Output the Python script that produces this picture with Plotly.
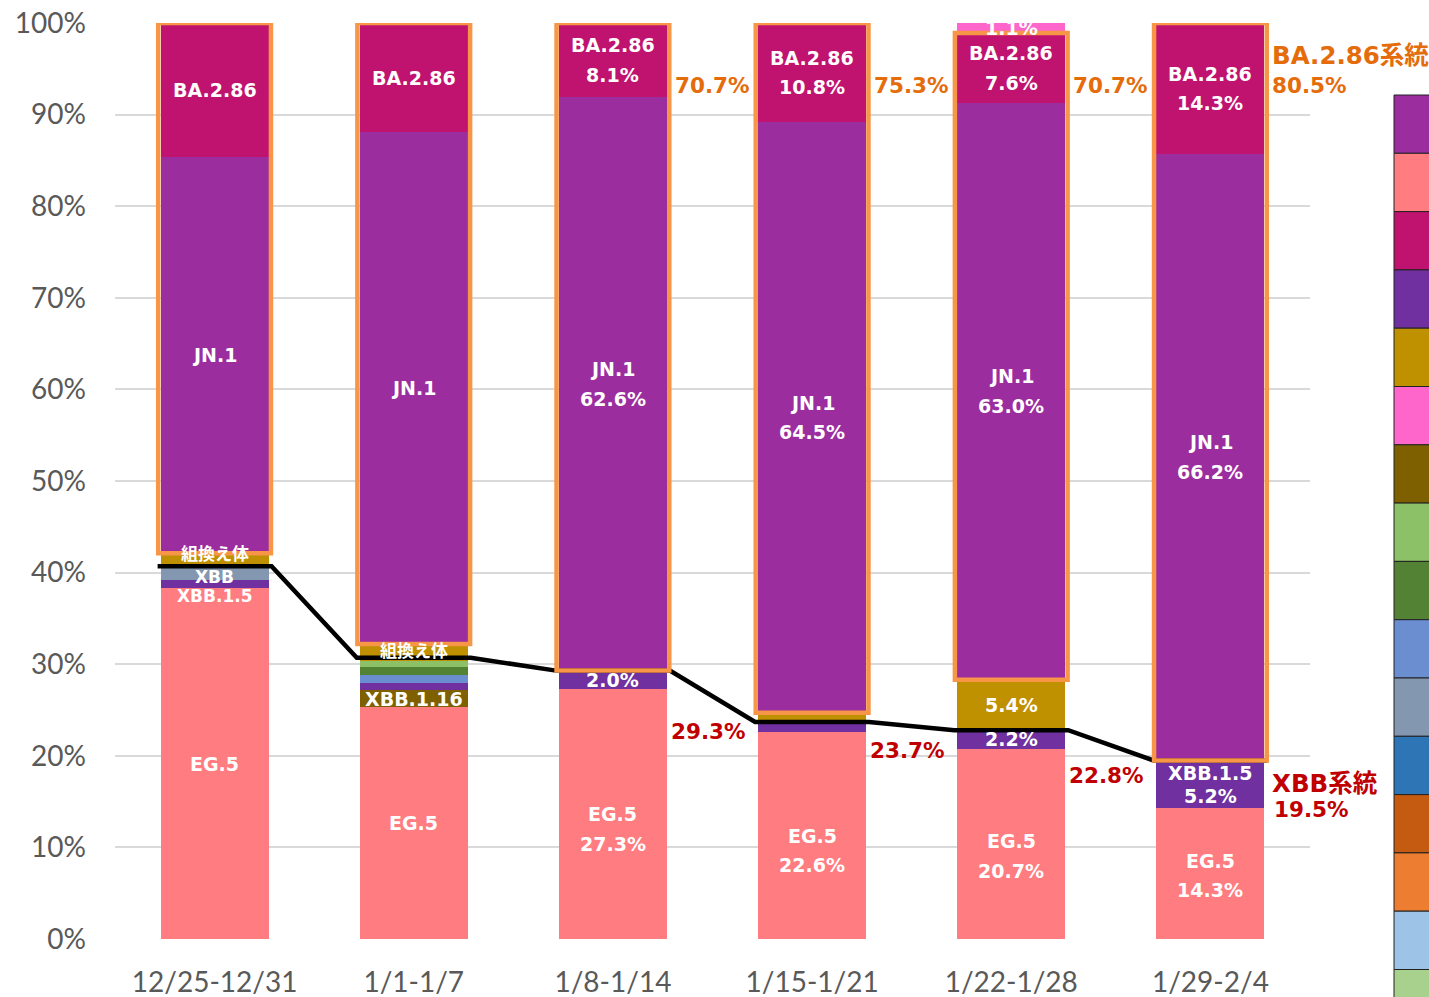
import plotly.graph_objects as go

weeks = ["12/25-12/31", "1/1-1/7", "1/8-1/14", "1/15-1/21", "1/22-1/28", "1/29-2/4"]

# stacked series, bottom to top (percent)
eg5      = [38.3, 25.3, 27.3, 22.6, 20.7, 14.3]
xbb116   = [0.0, 1.9, 0.0, 0.0, 0.0, 0.0]
xbb15    = [0.9, 0.7, 2.0, 1.1, 2.2, 5.2]
xbb23    = [0.0, 0.9, 0.0, 0.0, 0.0, 0.0]
xbb192   = [0.0, 0.9, 0.0, 0.0, 0.0, 0.0]
xbb191   = [0.0, 0.7, 0.0, 0.0, 0.0, 0.0]
xbb      = [1.3, 0.0, 0.0, 0.0, 0.0, 0.0]
recomb   = [1.6, 1.8, 0.0, 1.0, 5.4, 0.0]
jn1      = [43.3, 55.9, 62.6, 64.5, 63.0, 66.2]
ba286    = [14.6, 11.9, 8.1, 10.8, 7.6, 14.3]
other    = [0.0, 0.0, 0.0, 0.0, 1.1, 0.0]

xbb_lineage = [40.7, 30.7, 29.3, 23.7, 22.8, 19.5]
ba286_lineage_labels = ["", "", "70.7%", "75.3%", "70.7%", "80.5%"]
xbb_lineage_labels = ["", "", "29.3%", "23.7%", "22.8%", "19.5%"]
xbb_label_y = [None, None, 22.7, 20.6, 17.8, 14.1]

series = [
    ("EG.5", eg5, "#FF7C80"),
    ("XBB.1.16", xbb116, "#7F6000"),
    ("XBB.1.5", xbb15, "#7030A0"),
    ("XBB.2.3", xbb23, "#6A8ED0"),
    ("XBB.1.9.2", xbb192, "#548235"),
    ("XBB.1.9.1", xbb191, "#8CC168"),
    ("XBB", xbb, "#8497B0"),
    ("組換え体", recomb, "#BF9000"),
    ("JN.1", jn1, "#9B2D9F"),
    ("BA.2.86", ba286, "#C0136F"),
    ("その他", other, "#FF66CC"),
]

legend_colors = ["#9B2D9F", "#FF7C80", "#C0136F", "#7030A0", "#BF9000", "#FF66CC",
                 "#7F6000", "#8CC168", "#548235", "#6A8ED0", "#8497B0", "#2E75B6",
                 "#C55A11", "#ED7D31", "#9DC3E6", "#A9D18E"]

# labels drawn inside segments: (series name, bar index, text lines, pixel nudge)
inside_labels = [
    ("BA.2.86", 0, ["BA.2.86"], 0), ("JN.1", 0, ["JN.1"], 0), ("EG.5", 0, ["EG.5"], 0),
    ("BA.2.86", 1, ["BA.2.86"], 0), ("JN.1", 1, ["JN.1"], 0), ("XBB.1.16", 1, ["XBB.1.16"], 0),
    ("EG.5", 1, ["EG.5"], 0),
    ("BA.2.86", 2, ["BA.2.86", "8.1%"], 0), ("JN.1", 2, ["JN.1", "62.6%"], 0), ("XBB.1.5", 2, ["2.0%"], 0),
    ("EG.5", 2, ["EG.5", "27.3%"], -15),
    ("BA.2.86", 3, ["BA.2.86", "10.8%"], 0), ("JN.1", 3, ["JN.1", "64.5%"], 0),
    ("EG.5", 3, ["EG.5", "22.6%"], -15),
    ("その他", 4, ["1.1%"], 0), ("BA.2.86", 4, ["BA.2.86", "7.6%"], 0), ("JN.1", 4, ["JN.1", "63.0%"], 0),
    ("組換え体", 4, ["5.4%"], 0), ("XBB.1.5", 4, ["2.2%"], 0), ("EG.5", 4, ["EG.5", "20.7%"], -12),
    ("BA.2.86", 5, ["BA.2.86", "14.3%"], 0), ("JN.1", 5, ["JN.1", "66.2%"], 0),
    ("XBB.1.5", 5, ["XBB.1.5", "5.2%"], 0), ("EG.5", 5, ["EG.5", "14.3%"], -2),
]

BAR_W = 0.542
LABEL_FONT = "DejaVu Sans, Noto Sans CJK JP, sans-serif"
x = list(range(len(weeks)))

fig = go.Figure()
bases = {}
cum = [0.0] * len(weeks)
for name, vals, color in series:
    bases[name] = (list(cum), vals)
    fig.add_trace(go.Bar(x=x, y=vals, name=name, marker=dict(color=color, line=dict(width=0)),
                         width=BAR_W, showlegend=False, hoverinfo="y+name"))
    cum = [c + v for c, v in zip(cum, vals)]

# series line (XBB lineage)
lx, ly = [], []
hw = BAR_W / 2 + 0.015
for i, v in enumerate(xbb_lineage):
    lx += [i - hw, i + hw]
    ly += [v, v]
fig.add_trace(go.Scatter(x=lx, y=ly, mode="lines", line=dict(color="black", width=4.5),
                         showlegend=False, hoverinfo="skip"))

shapes = []
# orange boxes around BA.2.86 lineage (JN.1 + BA.2.86)
for i in x:
    b0 = bases["JN.1"][0][i]
    top = b0 + jn1[i] + ba286[i]
    shapes.append(dict(type="rect", xref="x", yref="y", x0=i - BAR_W / 2 - 0.012, x1=i + BAR_W / 2 + 0.012,
                       y0=b0, y1=top, line=dict(color="#F79646", width=4.5), fillcolor="rgba(0,0,0,0)",
                       layer="above"))

annotations = []
# small recombinant / XBB labels for first two bars
small_labels = [(0, 42.0, "組換え体"), (0, 39.5, "XBB"), (0, 37.5, "XBB.1.5"), (1, 31.4, "組換え体")]
for i, yv, t in small_labels:
    annotations.append(dict(x=i, y=yv, xref="x", yref="y", text="<b>" + t + "</b>", showarrow=False,
                            font=dict(family=LABEL_FONT, size=17, color="white")))

for name, i, lines, nudge in inside_labels:
    base, vals = bases[name]
    yc = base[i] + vals[i] / 2
    gap = 23 if name == "XBB.1.5" else 29.5
    n = len(lines)
    for k, t in enumerate(lines):
        shift = ((n - 1) / 2 - k) * gap + nudge
        annotations.append(dict(x=i, y=yc, xref="x", yref="y", yshift=shift, text="<b>" + t + "</b>",
                                showarrow=False, font=dict(family=LABEL_FONT, size=19, color="white")))

# lineage labels
for i in x:
    if ba286_lineage_labels[i]:
        annotations.append(dict(x=i + 0.3, y=93.2, xref="x", yref="y", xanchor="left",
                                text="<b>" + ba286_lineage_labels[i] + "</b>", showarrow=False,
                                font=dict(family=LABEL_FONT, size=21.5, color="#E46C0A")))
    if xbb_lineage_labels[i]:
        annotations.append(dict(x=i + (0.28 if i < 5 else 0.31), y=xbb_label_y[i], xref="x", yref="y",
                                xanchor="left", text="<b>" + xbb_lineage_labels[i] + "</b>", showarrow=False,
                                font=dict(family=LABEL_FONT, size=21.5, color="#C00000")))
annotations.append(dict(x=5.3, y=96.5, xref="x", yref="y", xanchor="left", text="<b>BA.2.86系統</b>",
                        showarrow=False, font=dict(family=LABEL_FONT, size=24.5, color="#E46C0A")))
annotations.append(dict(x=5.3, y=17.0, xref="x", yref="y", xanchor="left", text="<b>XBB系統</b>",
                        showarrow=False, font=dict(family=LABEL_FONT, size=24.5, color="#C00000")))

# cropped legend swatches at the right edge
PLOT_L, PLOT_R, PLOT_T, PLOT_B = 115, 1310, 23, 939
pw, ph = PLOT_R - PLOT_L, PLOT_B - PLOT_T
sw_top, sw_h = 95, 58.3
for k, c in enumerate(legend_colors):
    y_top = sw_top + k * sw_h
    shapes.append(dict(type="rect", xref="paper", yref="paper",
                       x0=(1394 - PLOT_L) / pw, x1=(1440 - PLOT_L) / pw,
                       y0=(PLOT_B - (y_top + sw_h)) / ph, y1=(PLOT_B - y_top) / ph,
                       fillcolor=c, line=dict(color="#222222", width=1)))

fig.update_layout(
    barmode="stack",
    width=1429, height=997,
    margin=dict(l=PLOT_L, r=1429 - PLOT_R, t=PLOT_T, b=997 - PLOT_B, autoexpand=False),
    paper_bgcolor="white", plot_bgcolor="white",
    shapes=shapes, annotations=annotations,
    xaxis=dict(range=[-0.5, 5.5], tickvals=x, ticktext=weeks, showgrid=False, zeroline=False,
               showline=False, ticks="", automargin=False, ticklabelstandoff=24,
               tickfont=dict(family="Lato, sans-serif", size=28, color="#595959")),
    yaxis=dict(range=[0, 100], tickvals=list(range(0, 101, 10)), ticktext=[f"{v}%" for v in range(0, 101, 10)],
               showgrid=True, gridcolor="#D9D9D9", gridwidth=1.5, zeroline=False, showline=False, ticks="",
               automargin=False, ticklabelstandoff=28,
               tickfont=dict(family="Lato, sans-serif", size=28, color="#595959")),
)

fig.write_html("out.html", config={"displayModeBar": False},
               post_script="document.body.style.margin='0';document.body.style.overflow='hidden';")
